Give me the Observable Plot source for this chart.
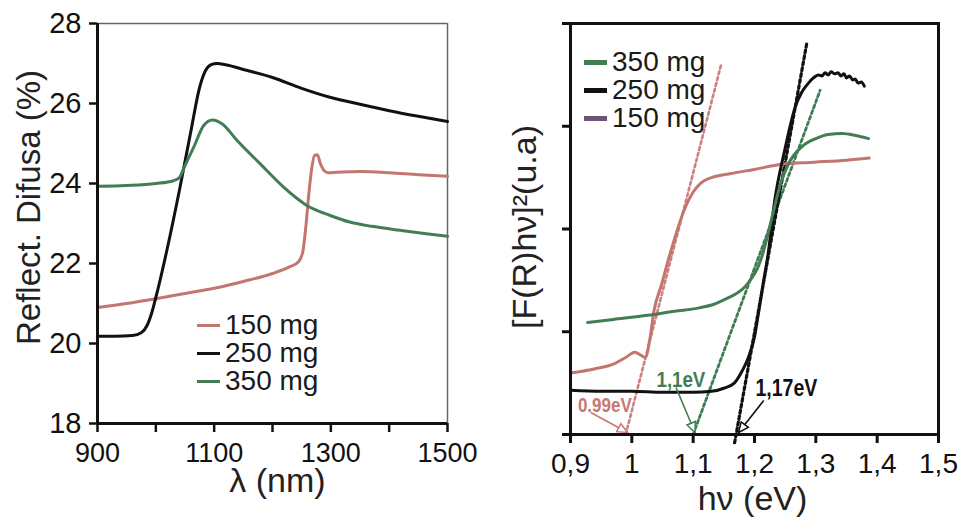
<!DOCTYPE html>
<html>
<head>
<meta charset="utf-8">
<script src="https://cdn.jsdelivr.net/npm/d3@7"></script>
<script src="https://cdn.jsdelivr.net/npm/@observablehq/plot@0.6"></script>
<style>
  html, body { margin: 0; padding: 0; background: #ffffff; }
  #page { position: relative; width: 964px; height: 519px; overflow: hidden; font-family: "Liberation Sans", Arial, sans-serif; }
  #page > svg, #page > figure { position: absolute; top: 0; margin: 0; }
  .legend { position: absolute; display: flex; flex-direction: column; }
  .legend .row { display: flex; align-items: center; height: 28px; line-height: 28px; font-size: 28px; color: #1a1a1a; }
  .legend .swatch { display: inline-block; width: 23px; margin-right: 5px; }
</style>
</head>
<body>
<div id="page"></div>
<script>
// ---- Diffuse reflectance spectra: wavelength (nm) vs reflectance (%) ----
const lambda150 = [900, 950, 1000, 1050, 1100, 1150, 1200, 1230, 1245, 1252, 1257, 1262, 1267, 1272, 1277, 1282, 1288, 1295, 1310, 1350, 1400, 1450, 1500];
const refl150   = [20.9, 21.0, 21.12, 21.25, 21.38, 21.55, 21.75, 21.92, 22.05, 22.3, 22.9, 23.7, 24.35, 24.7, 24.72, 24.5, 24.33, 24.27, 24.28, 24.3, 24.27, 24.22, 24.18];

const lambda250 = [900, 930, 960, 975, 985, 992, 1000, 1020, 1040, 1060, 1075, 1085, 1095, 1105, 1120, 1150, 1200, 1250, 1300, 1350, 1400, 1450, 1500];
const refl250   = [20.18, 20.18, 20.2, 20.27, 20.45, 20.72, 21.15, 22.4, 23.8, 25.3, 26.4, 26.82, 26.97, 27.0, 26.97, 26.85, 26.65, 26.38, 26.15, 25.98, 25.82, 25.68, 25.55];

const lambda350 = [900, 950, 1000, 1030, 1040, 1050, 1065, 1082, 1097, 1114, 1139, 1179, 1219, 1240, 1259, 1299, 1334, 1370, 1419, 1460, 1500];
const refl350   = [23.93, 23.95, 24.0, 24.07, 24.14, 24.45, 24.91, 25.45, 25.59, 25.49, 25.08, 24.49, 23.91, 23.65, 23.45, 23.2, 23.03, 22.93, 22.83, 22.75, 22.68];

// ---- Kubelka-Munk plot: photon energy (eV) vs [F(R)hv]^2 (arb. units) ----
const energy150 = [0.903, 0.94, 0.972, 0.99, 1.005, 1.015, 1.022, 1.03, 1.036, 1.048, 1.059, 1.072, 1.085, 1.1, 1.113, 1.13, 1.162, 1.2, 1.244, 1.298, 1.35, 1.387];
const km150     = [0.6, 0.64, 0.69, 0.75, 0.8, 0.77, 0.75, 0.95, 1.2, 1.45, 1.69, 1.95, 2.18, 2.36, 2.45, 2.5, 2.54, 2.58, 2.63, 2.65, 2.67, 2.69];

const energy250 = [0.9, 0.95, 1.0, 1.05, 1.1, 1.13, 1.15, 1.167, 1.18, 1.19, 1.2, 1.207, 1.215, 1.222, 1.233, 1.249, 1.258, 1.266, 1.277, 1.288, 1.296, 1.304, 1.31, 1.315, 1.32, 1.325, 1.331, 1.336, 1.341, 1.346, 1.35, 1.355, 1.36, 1.364, 1.369, 1.374, 1.379];
const km250     = [0.43, 0.42, 0.42, 0.41, 0.41, 0.42, 0.45, 0.5, 0.62, 0.75, 0.95, 1.2, 1.5, 1.75, 2.28, 2.76, 3.0, 3.18, 3.33, 3.42, 3.47, 3.5, 3.49, 3.52, 3.5, 3.53, 3.51, 3.52, 3.49, 3.51, 3.47, 3.49, 3.45, 3.46, 3.42, 3.43, 3.39];

const energy350 = [0.928, 0.97, 1.026, 1.07, 1.108, 1.135, 1.157, 1.17, 1.185, 1.195, 1.205, 1.213, 1.222, 1.232, 1.243, 1.255, 1.277, 1.3, 1.32, 1.343, 1.365, 1.386];
const km350     = [1.09, 1.12, 1.16, 1.2, 1.23, 1.27, 1.33, 1.37, 1.44, 1.52, 1.62, 1.75, 1.95, 2.2, 2.45, 2.63, 2.8, 2.88, 2.92, 2.93, 2.91, 2.88];

// Band-gap extrapolations: x-intercept (eV) and the upper end of each tangent
const gapLabels  = ["0.99eV", "1,1eV", "1,17eV"];
const gapValues  = [0.99, 1.1, 1.17];
const tangentTopX = [1.146, 1.307, 1.285];
const tangentTopY = [3.61, 3.35, 3.8];
const tangentLowY = [0, 0, -0.08];

// Axis ticks and labels
const xTicksNm = [900, 1000, 1100, 1200, 1300, 1400, 1500];
const xTickLabelsNm = ["900", "", "1100", "", "1300", "", "1500"];
const yTicksPct = [18, 20, 22, 24, 26, 28];
const xTicksEV = [0.9, 1.0, 1.1, 1.2, 1.3, 1.4, 1.5];
const xTickLabelsEV = ["0,9", "1", "1,1", "1,2", "1,3", "1,4", "1,5"];
const yTicksKM = [0, 1, 2, 3, 4];

const samples = ["150 mg", "250 mg", "350 mg"];
const colors = {"150 mg": "#c27670", "250 mg": "#111111", "350 mg": "#437d56"};
const legendPurple = "#6b5575";

const font = "'Liberation Sans', Arial, sans-serif";

const zipXY = (xs, ys, sample) => xs.map((x, i) => ({x, y: ys[i], sample}));

const reflData = [
  ...zipXY(lambda150, refl150, "150 mg"),
  ...zipXY(lambda250, refl250, "250 mg"),
  ...zipXY(lambda350, refl350, "350 mg")
];
const kmData = [
  ...zipXY(energy150, km150, "150 mg"),
  ...zipXY(energy250, km250, "250 mg"),
  ...zipXY(energy350, km350, "350 mg")
];

// Each tangent runs from (just below) its axis crossing up to its top point
const tangentLine = i => {
  const g = gapValues[i];
  const slope = (tangentTopX[i] - g) / tangentTopY[i];
  return [
    {x: g + slope * tangentLowY[i], y: tangentLowY[i]},
    {x: tangentTopX[i], y: tangentTopY[i]}
  ];
};
const tangentColors = ["#d0817e", "#3f7d53", "#111111"];
const tangentWidths = [2.6, 2.8, 3.2];
const calloutColors = ["#c87873", "#3f7d53", "#111111"];

// Callout layout: arrow tails and label anchors; arrow heads sit on the axis at the gap value
const arrowTailX = [0.933, 1.072, 1.215];
const arrowTailY = [0.214, 0.457, 0.33];
const calloutX = [0.956, 1.08, 1.252];
const calloutY = [0.28, 0.53, 0.45];
const calloutSize = [20, 22, 23];
const callouts = gapValues.map((g, i) => ({
  label: gapLabels[i], gap: g,
  x1: arrowTailX[i], y1: arrowTailY[i], x2: g + (i === 2 ? 0.004 : 0.003), y2: 0.02,
  tx: calloutX[i], ty: calloutY[i], size: calloutSize[i], color: calloutColors[i]
}));

const page = document.getElementById("page");

// ---------------- Left panel: reflectance ----------------
const left = Plot.plot({
  width: 480, height: 519,
  marginLeft: 97, marginRight: 33, marginTop: 23, marginBottom: 96,
  style: {fontFamily: font, color: "#111", background: "transparent", overflow: "visible"},
  x: {domain: [900, 1500], axis: null},
  y: {domain: [18, 28], axis: null},
  marks: [
    Plot.ruleY([28], {stroke: "#666", strokeWidth: 1.5}),
    Plot.ruleX([1500], {stroke: "#666", strokeWidth: 1.5}),
    Plot.line(reflData, {x: "x", y: "y", z: "sample", stroke: d => colors[d.sample], strokeWidth: 3, curve: "monotone-x"}),
    Plot.axisX(xTicksNm, {tickSize: 9, tickPadding: 10, fontSize: 27, strokeWidth: 2.5, label: null,
      tickFormat: d => xTickLabelsNm[xTicksNm.indexOf(d)]}),
    Plot.axisY(yTicksPct, {tickSize: 8, tickPadding: 8, fontSize: 29, strokeWidth: 2.5, label: null}),
    Plot.ruleX([900], {strokeWidth: 3, stroke: "#111"}),
    Plot.ruleY([18], {strokeWidth: 3, stroke: "#111"}),
    Plot.text(["λ (nm)"], {frameAnchor: "bottom", lineAnchor: "middle", textAnchor: "middle", dx: 5, dy: 58, fontSize: 34, fill: "#222"}),
    Plot.text(["Reflect. Difusa (%)"], {frameAnchor: "left", lineAnchor: "middle", textAnchor: "middle", rotate: -90, dx: -68, dy: -16, fontSize: 33, fill: "#222"})
  ]
});
left.style.left = "0px";
page.appendChild(left);

// ---------------- Right panel: Kubelka-Munk ----------------
const right = Plot.plot({
  width: 484, height: 519,
  marginLeft: 90, marginRight: 26, marginTop: 23, marginBottom: 85,
  style: {fontFamily: font, color: "#111", background: "transparent", overflow: "visible"},
  x: {domain: [0.9, 1.5], axis: null},
  y: {domain: [0, 4], axis: null},
  marks: [
    ...gapValues.map((g, i) => Plot.line(tangentLine(i), {x: "x", y: "y", stroke: tangentColors[i], strokeWidth: tangentWidths[i], strokeDasharray: "3,3"})),
    Plot.line(kmData, {x: "x", y: "y", z: "sample", stroke: d => colors[d.sample], strokeWidth: 3, curve: "monotone-x"}),
    Plot.link(callouts, {x1: "x1", y1: "y1", x2: "x2", y2: "y2", stroke: "color", strokeWidth: 1.6}),
    Plot.text(callouts, {x: "tx", y: "ty", text: "label", fill: "color", fontSize: d => d.size, fontWeight: "bold"}),
    Plot.frame({stroke: "#111", strokeWidth: 3}),
    Plot.axisX(xTicksEV, {tickSize: 9, tickPadding: 10, fontSize: 28, strokeWidth: 3, label: null,
      tickFormat: d => xTickLabelsEV[xTicksEV.indexOf(d)]}),
    Plot.axisY(yTicksKM, {tickSize: 8, strokeWidth: 3, label: null, tickFormat: () => ""}),
    Plot.text(["hν (eV)"], {frameAnchor: "bottom", lineAnchor: "middle", textAnchor: "middle", dx: -2, dy: 65, fontSize: 34, fill: "#222"}),
    Plot.text(["[F(R)hν]²(u.a)"], {frameAnchor: "left", lineAnchor: "middle", textAnchor: "middle", rotate: -90, dx: -45, dy: -2, fontSize: 34, fill: "#222"})
  ]
});
right.style.left = "480px";
page.appendChild(right);

// Callout labels are set in a narrow face: squeeze them horizontally about their anchor
right.querySelectorAll("text").forEach(t => {
  if (!gapLabels.includes(t.textContent)) return;
  const tr = t.getAttribute("transform");
  if (tr) t.setAttribute("transform", tr + " scale(0.85,1)");
  else {
    const x = +t.getAttribute("x") || 0, y = +t.getAttribute("y") || 0;
    t.removeAttribute("x"); t.removeAttribute("y");
    t.setAttribute("transform", `translate(${x},${y}) scale(0.85,1)`);
  }
});

// Hollow triangular arrow heads for the callout links
const svgNS = "http://www.w3.org/2000/svg";
const defs = document.createElementNS(svgNS, "defs");
calloutColors.forEach((c, i) => {
  const m = document.createElementNS(svgNS, "marker");
  m.setAttribute("id", "gap-head-" + i);
  m.setAttribute("viewBox", "0 0 12 12");
  m.setAttribute("refX", "11");
  m.setAttribute("refY", "6");
  m.setAttribute("markerUnits", "userSpaceOnUse");
  m.setAttribute("markerWidth", "12");
  m.setAttribute("markerHeight", "12");
  m.setAttribute("orient", "auto");
  const p = document.createElementNS(svgNS, "path");
  p.setAttribute("d", "M1,1.5 L11,6 L1,10.5 Z");
  p.setAttribute("fill", "#ffffff");
  p.setAttribute("stroke", c);
  p.setAttribute("stroke-width", "1.5");
  m.appendChild(p);
  defs.appendChild(m);
});
right.insertBefore(defs, right.firstChild);
const linkGroup = right.querySelector('g[aria-label="link"]');
if (linkGroup) linkGroup.querySelectorAll("path, line").forEach((el, i) => el.setAttribute("marker-end", `url(#gap-head-${i})`));

// ---------------- Legends ----------------
function legend(entries, left, top, thickness) {
  const box = document.createElement("div");
  box.className = "legend";
  box.style.left = left + "px";
  box.style.top = top + "px";
  for (const e of entries) {
    const row = document.createElement("div");
    row.className = "row";
    const sw = document.createElement("span");
    sw.className = "swatch";
    sw.style.height = thickness + "px";
    sw.style.background = e.color;
    const label = document.createElement("span");
    label.textContent = e.label;
    row.append(sw, label);
    box.appendChild(row);
  }
  page.appendChild(box);
}
legend(samples.map(s => ({label: s, color: colors[s]})), 197, 311, 3);
legend([
  {label: "350 mg", color: colors["350 mg"]},
  {label: "250 mg", color: colors["250 mg"]},
  {label: "150 mg", color: legendPurple}
], 584, 48, 5);
</script>
</body>
</html>
